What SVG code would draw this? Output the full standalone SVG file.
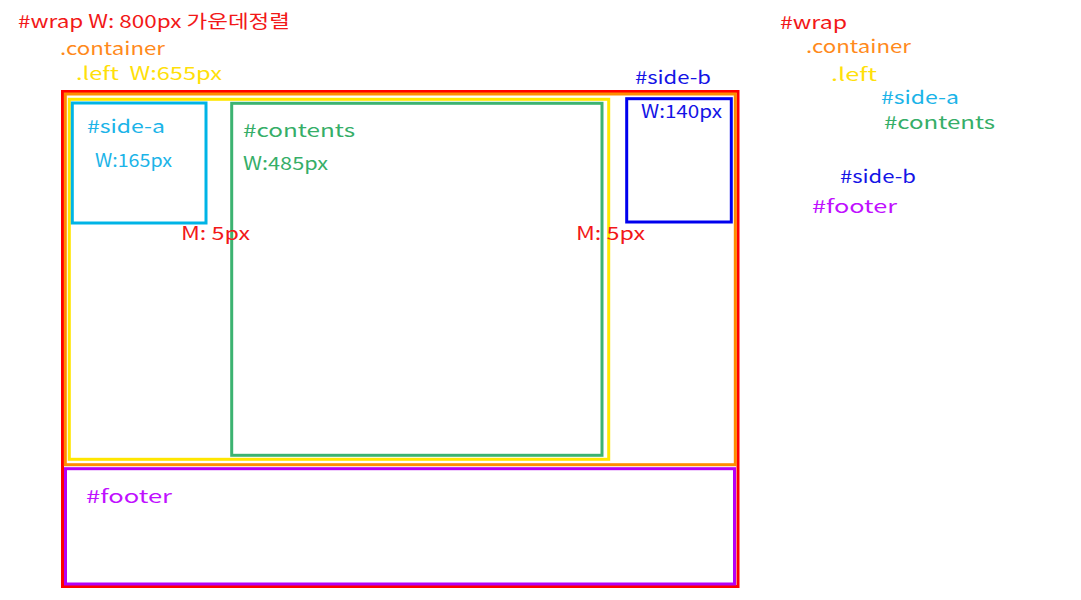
<svg xmlns="http://www.w3.org/2000/svg" width="1081" height="600" viewBox="0 0 1081 600">
<style>
  text { font-family: "Noto Sans CJK KR", "Noto Sans", sans-serif; font-size: 18px; white-space: pre; }
  .box { fill: none; stroke-width: 3; }
  .red { fill: #f21818; } .orange { fill: #ff8a1c; } .yellow { fill: #ffe00a; }
  .cyan { fill: #1cb4e8; } .green { fill: #36ae68; } .blue { fill: #1414e6; } .purple { fill: #c010ff; }
</style>
<rect width="1081" height="600" fill="#ffffff"/>
<g id="wrap">
  <rect class="box" x="62.5" y="91.5" width="675.5" height="495" stroke="#ff0000"/>
  <text class="red" x="18" y="28" textLength="272" lengthAdjust="spacingAndGlyphs">#wrap W: 800px 가운데정렬</text>
</g>
<g id="container">
  <rect class="box" x="65.3" y="94" width="670" height="370.7" stroke="#ff8c00"/>
  <text class="orange" x="60" y="55" textLength="105" lengthAdjust="spacingAndGlyphs">.container</text>
</g>
<g id="left">
  <rect class="box" x="69.3" y="99.3" width="539.4" height="360" stroke="#ffe600"/>
  <text class="yellow" x="76" y="80" textLength="146" lengthAdjust="spacingAndGlyphs">.left  W:655px</text>
</g>
<g id="side-a">
  <rect class="box" x="72.3" y="103" width="133.7" height="120" stroke="#00b4e6"/>
  <text class="cyan" x="87" y="133" textLength="78" lengthAdjust="spacingAndGlyphs">#side-a</text>
  <text class="cyan" x="95" y="167" textLength="77" lengthAdjust="spacingAndGlyphs">W:165px</text>
</g>
<g id="contents">
  <rect class="box" x="231.7" y="103.3" width="370.3" height="352" stroke="#3cb371"/>
  <text class="green" x="243" y="137" textLength="112" lengthAdjust="spacingAndGlyphs">#contents</text>
  <text class="green" x="243" y="170" textLength="85" lengthAdjust="spacingAndGlyphs">W:485px</text>
</g>
<g id="side-b">
  <rect class="box" x="626.7" y="98.7" width="104.6" height="123.3" stroke="#0000ee"/>
  <text class="blue" x="635" y="84" textLength="76" lengthAdjust="spacingAndGlyphs">#side-b</text>
  <text class="blue" x="641" y="118" textLength="81" lengthAdjust="spacingAndGlyphs">W:140px</text>
</g>
<g id="margins">
  <text class="red" x="181" y="240" textLength="69" lengthAdjust="spacingAndGlyphs">M: 5px</text>
  <text class="red" x="576" y="240" textLength="69" lengthAdjust="spacingAndGlyphs">M: 5px</text>
</g>
<g id="footer">
  <rect class="box" x="65.5" y="468.7" width="669" height="115.3" stroke="#b400f5"/>
  <text class="purple" x="86" y="503" textLength="86" lengthAdjust="spacingAndGlyphs">#footer</text>
</g>
<g id="legend">
  <text class="red" x="780" y="29" textLength="67" lengthAdjust="spacingAndGlyphs">#wrap</text>
  <text class="orange" x="806" y="53" textLength="105" lengthAdjust="spacingAndGlyphs">.container</text>
  <text class="yellow" x="831" y="81" textLength="46" lengthAdjust="spacingAndGlyphs">.left</text>
  <text class="cyan" x="881" y="104" textLength="78" lengthAdjust="spacingAndGlyphs">#side-a</text>
  <text class="green" x="884" y="129" textLength="111" lengthAdjust="spacingAndGlyphs">#contents</text>
  <text class="blue" x="840" y="183" textLength="76" lengthAdjust="spacingAndGlyphs">#side-b</text>
  <text class="purple" x="812" y="213" textLength="85" lengthAdjust="spacingAndGlyphs">#footer</text>
</g>
</svg>
